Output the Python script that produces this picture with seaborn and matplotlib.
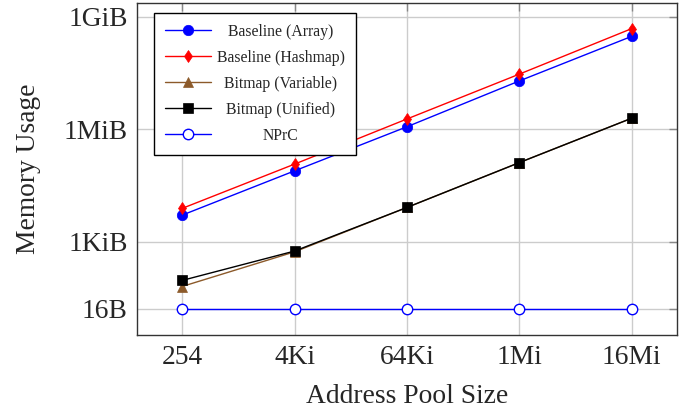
import pandas as pd
import matplotlib
matplotlib.use("Agg")
import matplotlib.pyplot as plt
import seaborn as sns

# ----- data (bytes) -----
pool_sizes = [254, 4096, 65536, 1048576, 16777216]
pool_labels = ["254", "4Ki", "64Ki", "1Mi", "16Mi"]

baseline_array = [5220, 80700, 1225000, 20700000, 324000000]
baseline_hashmap = [7910, 122300, 1980000, 31500000, 522000000]
bitmap_variable = [64, 545, 8420, 133900, 2070000]
bitmap_unified = [93, 572, 8420, 133900, 2070000]
nprc = [16, 16, 16, 16, 16]

mem_ticks = [16, 1024, 2**20, 2**30]
mem_labels = ["16B", "1KiB", "1MiB", "1GiB"]

series = {
    "Baseline (Array)": baseline_array,
    "Baseline (Hashmap)": baseline_hashmap,
    "Bitmap (Variable)": bitmap_variable,
    "Bitmap (Unified)": bitmap_unified,
    "NPrC": nprc,
}

rows = []
for name, vals in series.items():
    for x, y in zip(pool_sizes, vals):
        rows.append({"series": name, "pool": x, "mem": y})
df = pd.DataFrame(rows)

styles = {
    "Baseline (Array)": dict(color="#0000ff", marker="o", markersize=7.5, mfc="#0000ff", mec="#0000ff"),
    "Baseline (Hashmap)": dict(color="#ff0000", marker="d", markersize=6.5, mfc="#ff0000", mec="#ff0000"),
    "Bitmap (Variable)": dict(color="#8c5a2a", marker="^", markersize=7, mfc="#8c5a2a", mec="#8c5a2a"),
    "Bitmap (Unified)": dict(color="#000000", marker="s", markersize=7, mfc="#000000", mec="#000000"),
    "NPrC": dict(color="#0000ff", marker="o", markersize=7.5, mfc="white", mec="#0000ff", mew=1.0),
}

sns.set_style("white")
plt.rcParams["font.family"] = ["Liberation Serif", "DejaVu Serif"]

fig = plt.figure(figsize=(6.85, 4.12), dpi=100)
ax = fig.add_axes([0.2005, 0.1857, 0.7875, 0.8077])

for name in series:
    sub = df[df["series"] == name]
    st = styles[name]
    sns.lineplot(data=sub, x="pool", y="mem", ax=ax, label=name, linewidth=1.0,
                 color=st["color"], marker=st["marker"], markersize=st["markersize"],
                 markerfacecolor=st["mfc"], markeredgecolor=st["mec"],
                 markeredgewidth=st.get("mew", 0.5), zorder=3)

ax.set_xscale("log", base=2)
ax.set_yscale("log", base=2)
ax.set_xlim(2**6.4, 2**25.61)
ax.set_ylim(2**1.64, 2**31.27)
ax.set_xticks(pool_sizes)
ax.set_xticklabels(pool_labels)
ax.set_yticks(mem_ticks)
ax.set_yticklabels(mem_labels)
ax.minorticks_off()

ax.grid(True, color="#cccccc", linewidth=1.0)
ax.tick_params(axis="both", which="major", direction="in", length=5.5, width=1.0,
               color="#888888", labelsize=19.8, top=True, right=True, pad=7)
for sp in ax.spines.values():
    sp.set_color("#333333")
    sp.set_linewidth(1.0)

ax.set_xlabel("Address Pool Size", fontsize=19.8, labelpad=10)
ax.set_ylabel("Memory Usage", fontsize=19.8, labelpad=16)

leg = ax.legend(loc="upper left", bbox_to_anchor=(0.031, 0.970), borderaxespad=0,
                fancybox=False, edgecolor="black", framealpha=1, fontsize=11.3,
                handlelength=2.9, handletextpad=0.4, borderpad=0.7,
                labelspacing=0.64, numpoints=1)
leg.get_frame().set_linewidth(1.0)

# centre the legend labels in the text column, as in the original
renderer = fig.canvas.get_renderer()
fig.canvas.draw()
widths = [t.get_window_extent(renderer).width for t in leg.get_texts()]
wmax = max(widths)
for t, w in zip(leg.get_texts(), widths):
    t.set_position(((wmax - w) / 2, 0))

fig.savefig("out.png", dpi=100)
plt.close(fig)
